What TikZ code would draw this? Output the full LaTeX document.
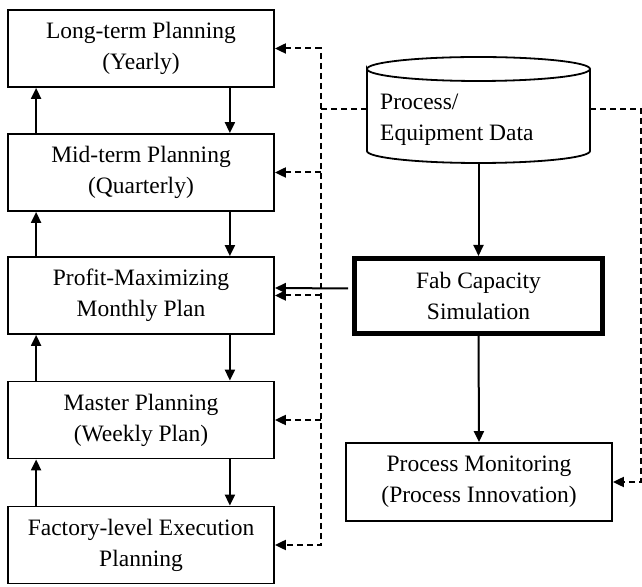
\documentclass[tikz,border=0pt]{standalone}
\usepackage{fontspec}
\setmainfont{Liberation Serif}
\usetikzlibrary{arrows.meta}
\begin{document}
\begin{tikzpicture}[x=1pt,y=1pt,
  txt/.style={font=\fontsize{23.5}{31}\selectfont, align=center},
  box/.style={txt, draw, line width=1.8pt, minimum width=266pt, minimum height=77pt, inner sep=0pt},
  arr/.style={line width=2pt, -{Triangle[length=11pt,width=10pt]}},
  darr/.style={arr, dash pattern=on 6pt off 4pt},
  dline/.style={line width=2pt, dash pattern=on 6pt off 4pt}]
\useasboundingbox (0,0) rectangle (642,586);
% left column
\node[box] (lt) at (141,537.5) {Long-term Planning\\(Yearly)};
\node[box] (mt) at (141,413.5) {Mid-term Planning\\(Quarterly)};
\node[box] (pm) at (141,290.5) {Profit-Maximizing\\Monthly Plan};
\node[box] (mp) at (141,166) {Master Planning\\(Weekly Plan)};
\node[box] (fe) at (141,41) {Factory-level Execution\\Planning};
% right column
\draw[line width=1.8pt] (367,517) arc[start angle=180,end angle=-180,x radius=111.5,y radius=12]
  -- (367,435) arc[start angle=180,end angle=360,x radius=111.5,y radius=12] -- (590,517);
\node[txt, align=left, anchor=west, inner sep=0pt] (cyl) at (380,466) {Process/\\Equipment Data};
\coordinate (cb) at (478.5,423);
\coordinate (cl) at (367,477);
\coordinate (cr) at (590,477);
\node[box, line width=5pt, minimum width=248pt, minimum height=75pt] (fab) at (478.5,290) {Fab Capacity\\Simulation};
\node[box, minimum height=78pt] (pmon) at (479,104) {Process Monitoring\\(Process Innovation)};
% vertical flow in left column
\draw[arr] ([xshift=-45pt]lt.south east) -- ([xshift=-45pt]mt.north east);
\draw[arr] ([xshift=-45pt]mt.south east) -- ([xshift=-45pt]pm.north east);
\draw[arr] ([xshift=-45pt]pm.south east) -- ([xshift=-45pt]mp.north east);
\draw[arr] ([xshift=-45pt]mp.south east) -- ([xshift=-45pt]fe.north east);
\draw[arr] ([xshift=29pt]mt.north west) -- ([xshift=29pt]lt.south west);
\draw[arr] ([xshift=29pt]pm.north west) -- ([xshift=29pt]mt.south west);
\draw[arr] ([xshift=29pt]mp.north west) -- ([xshift=29pt]pm.south west);
\draw[arr] ([xshift=29pt]fe.north west) -- ([xshift=29pt]mp.south west);
% right column flow
\draw[arr] (cb) -- (fab.north);
\draw[arr] (fab.south) -- (pmon.north);
\draw[arr] ([yshift=7.5pt,xshift=-4pt]fab.west) -- ([yshift=7.5pt]pm.east);
% dashed feedback
\coordinate (dt) at (321,537.5);
\coordinate (db) at (321,41);
\coordinate (dm) at (321,413.5);
\coordinate (dp) at (321,290.5);
\coordinate (dw) at (321,166);
\coordinate (dc) at (321,477);
\draw[dline, {Triangle[length=11pt,width=10pt]}-{Triangle[length=11pt,width=10pt]}] (lt.east) -- (dt) -- (db) -- (fe.east);
\draw[darr] (dm) -- (mt.east);
\draw[darr] (dp) -- (pm.east);
\draw[darr] (dw) -- (mp.east);
\draw[dline] (cl) -- (dc);
\coordinate (rc) at (641,477);
\coordinate (rb) at (641,104);
\draw[darr] (cr) -- (rc) -- (rb) -- (pmon.east);
\end{tikzpicture}
\end{document}
